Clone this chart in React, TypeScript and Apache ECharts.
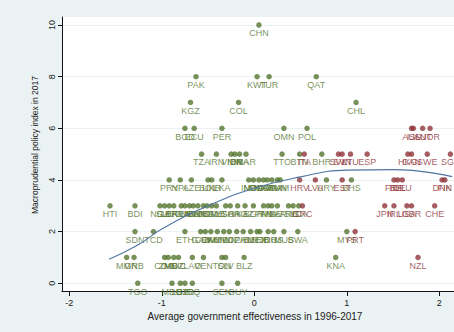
import React, { useEffect, useRef } from "react";
import * as echarts from "echarts";

// Emerging / developing economies (green markers)
const greenCodes = [
  "CHN",
  "PAK", "KWT", "TUR", "QAT",
  "KGZ", "COL", "CHL",
  "BGD", "ECU", "PER", "OMN", "POL",
  "TZA", "IRN", "VNM", "IDN", "BRA", "MAR", "TTO", "BTN", "BHR",
  "PRY", "NPL", "AZE", "BOL", "UKR", "LKA", "IND", "MDA", "MNG", "NAM", "DMA", "ARM", "TUN", "JAM", "URY", "BHS",
  "HTI", "BDI", "NGA", "SLE", "LBR", "BFA", "KEN", "CMR", "UGA", "MLI", "GMB", "HND", "DOM", "EGY", "ALB", "LSO", "GHA", "ARG", "KAZ", "BGR", "PAN", "THA", "MNE", "ZAF", "ARE", "SYC", "LCA",
  "SDN", "TCD", "ETH", "GAB", "COM", "SWZ", "KHM", "MWI", "DJI", "DZA", "PHL", "BIH", "MEX", "SRB", "JOR", "RUS", "MUS", "BWA", "MYS",
  "MMR", "GNB", "COG", "ZMB", "MOZ", "NIC", "LAO", "VEN", "TON", "SLV", "BLZ", "KNA",
  "TGO", "MDG", "LBY", "UZB", "IRQ", "SEN", "GUY",
];
const greenX = [
  0.05,
  -0.63, 0.03, 0.16, 0.67,
  -0.69, -0.17, 1.1,
  -0.75, -0.65, -0.35, 0.32, 0.57,
  -0.57, -0.41, -0.25, -0.21, -0.16, -0.09, 0.3, 0.49, 0.73,
  -0.92, -0.8, -0.68, -0.5, -0.46, -0.35, -0.06, -0.01, 0.05, 0.1, 0.14, 0.19, 0.25, 0.28, 0.78, 1.05,
  -1.56, -1.29, -1.02, -0.97, -0.92, -0.87, -0.79, -0.75, -0.7, -0.66, -0.61, -0.55, -0.51, -0.46, -0.41, -0.31, -0.26, -0.18, -0.1, -0.01, 0.1, 0.15, 0.19, 0.25, 0.37, 0.42, 0.48,
  -1.29, -1.09, -0.75, -0.58, -0.53, -0.47, -0.4, -0.33, -0.27, -0.19, -0.12, -0.04, 0.03, 0.06, 0.15, 0.21, 0.32, 0.47, 1.0,
  -1.38, -1.3, -0.97, -0.93, -0.87, -0.82, -0.67, -0.55, -0.35, -0.31, -0.11, 0.88,
  -1.26, -0.89, -0.8, -0.75, -0.67, -0.35, -0.18,
];
const greenY = [
  10,
  8, 8, 8, 8,
  7, 7, 7,
  6, 6, 6, 6, 6,
  5, 5, 5, 5, 5, 5, 5, 5, 5,
  4, 4, 4, 4, 4, 4, 4, 4, 4, 4, 4, 4, 4, 4, 4, 4,
  3, 3, 3, 3, 3, 3, 3, 3, 3, 3, 3, 3, 3, 3, 3, 3, 3, 3, 3, 3, 3, 3, 3, 3, 3, 3, 3,
  2, 2, 2, 2, 2, 2, 2, 2, 2, 2, 2, 2, 2, 2, 2, 2, 2, 2, 2,
  1, 1, 1, 1, 1, 1, 1, 1, 1, 1, 1, 1,
  0, 0, 0, 0, 0, 0, 0,
];

// Advanced economies (red markers)
const redCodes = [
  "AUS", "ISL", "AUT", "NOR",
  "ITA", "SVK", "SVN", "LTU", "ESP", "HKG", "CAN", "SWE", "SGP",
  "HRV", "LVA", "EST", "FRA", "BEL", "DEU", "DNK", "FIN",
  "GRC", "JPN", "IRL", "USA", "GBR", "CHE",
  "PRT",
  "NZL",
];
const redX = [
  1.7, 1.72, 1.82, 1.9,
  0.54, 0.91, 0.95, 1.04, 1.22, 1.66, 1.7, 1.87, 2.12,
  0.49, 0.66, 0.95, 1.51, 1.55, 1.6, 2.03, 2.06,
  0.52, 1.41, 1.51, 1.65, 1.7, 1.95,
  1.09,
  1.77,
];
const redY = [
  6, 6, 6, 6,
  5, 5, 5, 5, 5, 5, 5, 5, 5,
  4, 4, 4, 4, 4, 4, 4, 4,
  3, 3, 3, 3, 3, 3,
  2,
  1,
];

// Fitted curve, sampled along the x axis
const fitX = [-1.57, -1.25, -1.0, -0.5, 0, 0.5, 1.0, 1.5, 2.14];
const fitY = [0.93, 1.5, 2.1, 3.0, 3.68, 4.12, 4.38, 4.4, 4.13];

const xTicks = [-2, -1, 0, 1, 2];
const yTicks = [0, 2, 4, 6, 8, 10];

const FONT = "'Liberation Sans', Arial, sans-serif";
const GREEN = "#55752F";
const RED = "#90353B";
const BG = "#EAF2F3";

function pointSeries(codes: string[], xs: number[], ys: number[], color: string) {
  return {
    type: "scatter",
    data: codes.map((c, i) => [xs[i], ys[i], c]),
    symbolSize: 5.5,
    itemStyle: { color },
    label: {
      show: true,
      position: "bottom",
      distance: 1,
      formatter: (p: any) => p.data[2],
      fontSize: 9,
      fontFamily: FONT,
      color,
    },
    z: 3,
  };
}

export default function App() {
  const ref = useRef<HTMLDivElement>(null);

  useEffect(() => {
    const chart = echarts.init(ref.current!, null, { renderer: "svg" });
    chart.setOption({
      animation: false,
      backgroundColor: BG,
      grid: {
        left: 62,
        top: 17,
        right: 0,
        bottom: 41,
        show: true,
        backgroundColor: "#ffffff",
        borderWidth: 0,
      },
      xAxis: {
        type: "value",
        min: -2.079,
        max: 2.159,
        axisLine: { show: true, onZero: false, lineStyle: { color: "#111", width: 1 } },
        axisTick: { show: true, customValues: xTicks, length: 5, lineStyle: { color: "#111" } },
        axisLabel: {
          customValues: xTicks,
          fontSize: 9,
          fontFamily: FONT,
          color: "#222",
          margin: 7,
        },
        splitLine: { show: false },
      },
      yAxis: {
        type: "value",
        min: -0.3,
        max: 10.31,
        axisLine: { show: true, onZero: false, lineStyle: { color: "#111", width: 1 } },
        axisTick: { show: true, customValues: yTicks, length: 4, lineStyle: { color: "#111" } },
        axisLabel: {
          customValues: yTicks,
          rotate: 90,
          fontSize: 9,
          fontFamily: FONT,
          color: "#222",
          margin: 6,
        },
        splitLine: { show: true, lineStyle: { color: BG, width: 1 } },
      },
      graphic: [
        {
          type: "text",
          x: 35,
          y: 145,
          rotation: Math.PI / 2,
          style: {
            text: "Macroprudential policy index in 2017",
            x: 0,
            y: 0,
            fill: "#222",
            font: `8.5px ${FONT}`,
            textAlign: "center",
            textVerticalAlign: "middle",
          },
        },
        {
          type: "text",
          x: 255,
          y: 316,
          style: {
            text: "Average government effectiveness in 1996-2017",
            x: 0,
            y: 0,
            fill: "#222",
            font: `10px ${FONT}`,
            textAlign: "center",
            textVerticalAlign: "middle",
          },
        },
      ],
      series: [
        pointSeries(greenCodes, greenX, greenY, GREEN),
        pointSeries(redCodes, redX, redY, RED),
        {
          type: "line",
          data: fitX.map((x, i) => [x, fitY[i]]),
          smooth: true,
          showSymbol: false,
          lineStyle: { color: "#4f74a3", width: 1.1 },
          z: 4,
        },
      ],
    });
    return () => chart.dispose();
  }, []);

  return (
    <div style={{ position: "fixed", left: 0, top: 0, width: 454, height: 332, overflow: "hidden" }}>
      <div ref={ref} style={{ width: 454, height: 332 }} />
    </div>
  );
}
